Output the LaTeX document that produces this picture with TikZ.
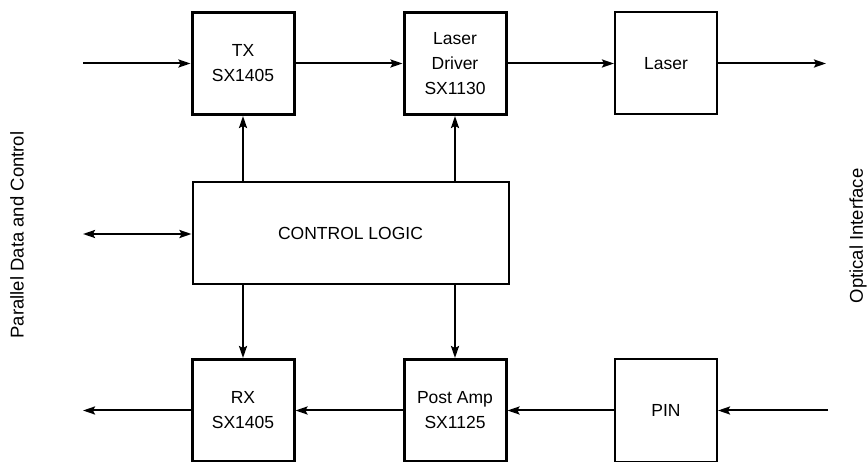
\documentclass[tikz,border=0pt]{standalone}
\usepackage{fontspec}
\setmainfont{Liberation Sans}
\usetikzlibrary{positioning,arrows.meta}

\begin{document}
\begin{tikzpicture}[x=1pt,y=-1pt,node distance=212pt,on grid,
    >={Stealth[length=12pt,width=8pt,inset=2pt]},
    font=\fontsize{17.5}{25}\selectfont]
  \tikzstyle{block}=[draw,line width=2pt,minimum width=102pt,minimum height=102pt,align=center,inner sep=0pt]
  \tikzstyle{heavy}=[block,line width=3pt]
  \tikzstyle{wire}=[line width=2pt]
  \tikzstyle{side}=[rotate=90,font=\fontsize{18.5}{22}\selectfont]
  \useasboundingbox (0,0) rectangle (868,462);
  \node[heavy] (tx) at (243,63.5) {TX\\SX1405};
  \node[heavy] (drv) [right=of tx] {Laser\\Driver\\SX1130};
  \node[block] (laser) [right=211pt of drv] {Laser};
  \node[block,minimum width=316pt,minimum height=102pt] (ctrl) [below right=170pt and 107.5pt of tx] {CONTROL LOGIC};
  \node[heavy] (rx) [below=347pt of tx] {RX\\SX1405};
  \node[heavy] (amp) [right=of rx] {Post Amp\\SX1125};
  \node[block] (pin) [right=211pt of amp] {PIN};
  \coordinate (txin) at (83,63.5);
  \coordinate (optout) at (826,63.5);
  \coordinate (bus) at (83,234);
  \coordinate (rxout) at (83,410.5);
  \coordinate (optin) at (828,410.5);
  \node[side] (par) at (17,235) {Parallel Data and Control};
  \node[side] (opt) at (858,236) {Optical Interface};
    \path[wire,->]
    (txin) edge (tx.west)
    (tx.east) edge (drv.west)
    (drv.east) edge (laser.west)
    (laser.east) edge (optout)
    (ctrl.north -| tx) edge (tx.south)
    (ctrl.north -| drv) edge (drv.south)
    (ctrl.south -| rx) edge (rx.north)
    (ctrl.south -| amp) edge (amp.north)
    (rx.west) edge (rxout)
    (amp.west) edge (rx.east)
    (pin.west) edge (amp.east)
    (optin) edge (pin.east);
    \draw[wire,<->] (bus) -- (ctrl.west |- bus);
\end{tikzpicture}
\end{document}
